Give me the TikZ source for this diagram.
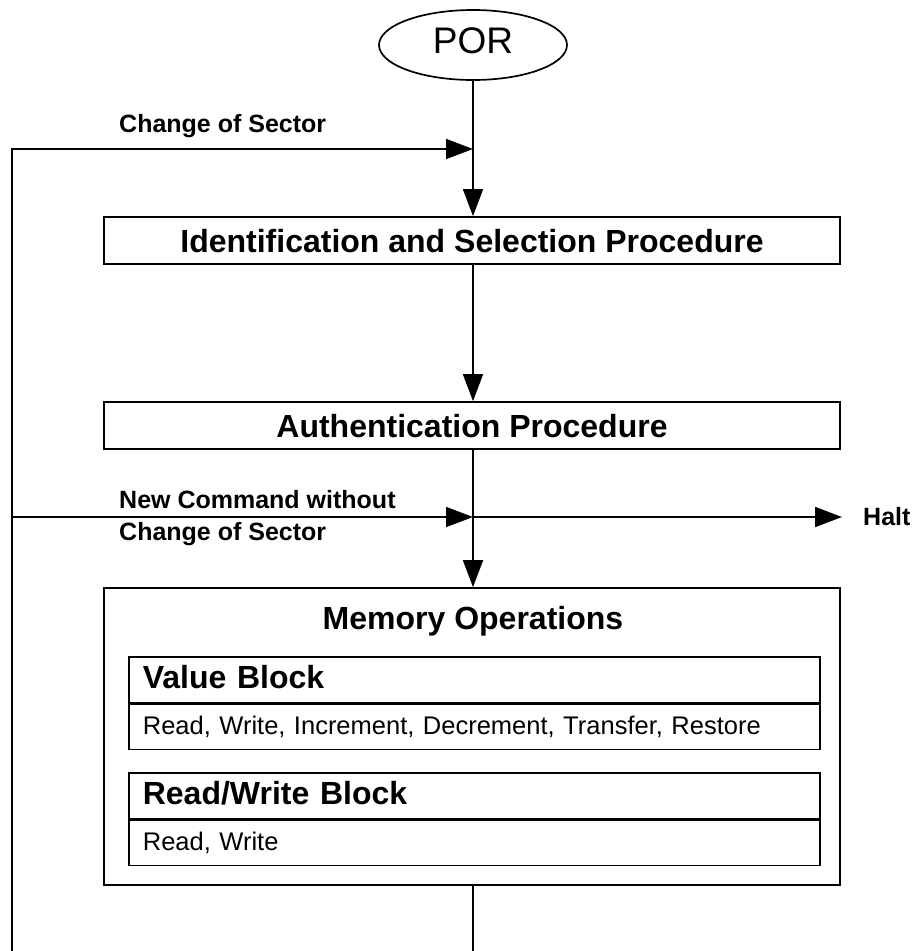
\documentclass[tikz,border=0pt]{standalone}
\usepackage{fontspec}
\setmainfont{Liberation Sans}
\usetikzlibrary{arrows.meta,shapes.geometric}
\tikzset{
  conn/.style={line width=1.7pt, -{Triangle[length=27pt,width=20pt]}},
  plain/.style={line width=1.7pt},
  bigbox/.style={draw, line width=1.7pt, minimum width=736pt, minimum height=47pt, inner sep=0pt, text height=35pt, text depth=12pt, font=\fontsize{32}{36}\selectfont\bfseries},
  subhead/.style={draw, line width=1.7pt, text width=663pt, inner xsep=14pt, inner ysep=0pt, text height=32pt, text depth=14pt, align=left, font=\fontsize{32}{36}\selectfont\bfseries},
  subops/.style={draw, line width=1.7pt, text width=663pt, inner xsep=14pt, inner ysep=0pt, text height=30pt, text depth=15pt, align=left, font=\fontsize{25.5}{28}\selectfont},
  lbl/.style={inner sep=0pt, align=left, font=\fontsize{25}{32}\selectfont\bfseries}
}
\begin{document}
\begin{tikzpicture}[x=1pt,y=-1pt]
\useasboundingbox (0,0) rectangle (916,951);
\node[ellipse, draw, line width=1.7pt, minimum width=188pt, minimum height=70pt, inner sep=0pt, text height=27pt, text depth=10pt, font=\fontsize{37}{40}\selectfont] (por) at (473,45) {POR};
\node[bigbox] (idsel) at (472,240.5) {Identification and Selection Procedure};
\node[bigbox] (auth) at (472,425.5) {Authentication Procedure};
\node[draw, line width=1.7pt, minimum width=736pt, minimum height=297pt, inner sep=0pt] (mem) at (472,736.5) {};
\node[inner sep=0pt, anchor=base, font=\fontsize{32}{36}\selectfont\bfseries] (memt) at (473,629) {Memory Operations};
\node[subhead, anchor=north west] (vb) at (128,656) {Value Block};
\node[subops, anchor=north west] (vbops) at (vb.south west) {Read, Write, Increment, Decrement, Transfer, Restore};
\node[subhead, anchor=north west] (rw) at (128,772) {Read/Write Block};
\node[subops, anchor=north west] (rwops) at (rw.south west) {Read, Write};
\node[lbl, anchor=base west] (cos) at (119,132) {Change of Sector};
\node[lbl, anchor=base west] (ncw1) at (119,508) {New Command without};
\node[lbl, anchor=base west] (ncw2) at (119,540) {Change of Sector};
\node[lbl, anchor=base west] (halt) at (863,525) {Halt};
\coordinate (j1) at (473,149);
\coordinate (j2) at (473,517);
\coordinate (l1) at (12,149);
\coordinate (l2) at (12,517);
\coordinate (lb) at (12,951);
\coordinate (cb) at (473,951);
\coordinate (he) at (842,517);
\draw[conn] (por.south) -- (por.south |- idsel.north);
\draw[conn] (por.south |- idsel.south) -- (por.south |- auth.north);
\draw[conn] (por.south |- auth.south) -- (por.south |- mem.north);
\draw[plain] (por.south |- mem.south) -- (cb);
\draw[conn] (lb) -- (l1) -- (j1);
\draw[conn] (l2) -- (j2);
\draw[conn] (j2) -- (he);
\end{tikzpicture}
\end{document}
